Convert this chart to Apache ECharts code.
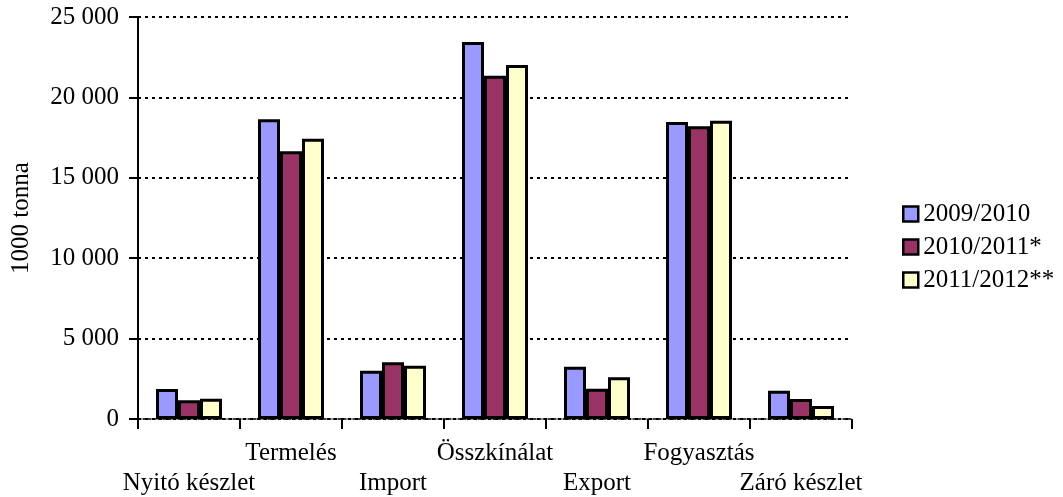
<!DOCTYPE html>
<html>
<head>
<meta charset="utf-8">
<script src="https://cdn.jsdelivr.net/npm/echarts@6/dist/echarts.min.js"></script>
<style>html,body{margin:0;padding:0;background:#fff;}#c{width:1063px;height:497px;}</style>
</head>
<body>
<div id="c"></div>
<script>
const categories = ['Nyitó készlet', 'Termelés', 'Import', 'Összkínálat', 'Export', 'Fogyasztás', 'Záró készlet'];
const seriesNames = ['2009/2010', '2010/2011*', '2011/2012**'];
const s2009 = [1870, 18640, 3000, 23450, 3250, 18470, 1760];
const s2010 = [1160, 16650, 3530, 21350, 1880, 18200, 1240];
const s2011 = [1260, 17430, 3310, 22010, 2590, 18550, 810];
const colors = ['#9999FF', '#993366', '#FFFFCC'];
const yTicks = { min: 0, max: 25000, interval: 5000 };

const font = 'Liberation Serif';
const chart = echarts.init(document.getElementById('c'));
const data = [s2009, s2010, s2011];
chart.setOption({
  animation: false,
  textStyle: { fontFamily: font },
  grid: { left: 138, right: 211, top: 17, bottom: 78, containLabel: false, outerBoundsMode: 'none' },
  legend: {
    orient: 'vertical', left: 897, top: 196,
    icon: 'rect',
    itemWidth: 15, itemHeight: 15, itemGap: 7,
    textStyle: { fontFamily: font, fontSize: 25, color: '#000', lineHeight: 26 },
    data: seriesNames.map((n, i) => ({ name: n, itemStyle: { color: colors[i], borderColor: '#000', borderWidth: 2.5 } }))
  },
  xAxis: {
    type: 'category', data: categories,
    axisLine: { lineStyle: { color: '#000', width: 1.5, type: [3, 2] } },
    axisTick: { show: true, length: 10, lineStyle: { color: '#000', width: 2 } },
    axisLabel: {
      interval: 0, margin: 19, fontFamily: font, fontSize: 25, color: '#000', lineHeight: 30,
      formatter: (v, i) => (i % 2 === 0 ? '\n' + v : v)
    }
  },
  yAxis: {
    type: 'value', min: yTicks.min, max: yTicks.max, interval: yTicks.interval,
    name: '1000 tonna', nameLocation: 'middle', nameGap: 104, nameRotate: 90,
    nameTextStyle: { fontFamily: font, fontSize: 25, color: '#000' },
    axisLine: { show: true, lineStyle: { color: '#000', width: 2 } },
    axisTick: { show: true, length: 9, lineStyle: { color: '#000', width: 2 } },
    axisLabel: {
      margin: 19, fontFamily: font, fontSize: 25, color: '#000',
      formatter: v => String(v).replace(/\B(?=(\d{3})+(?!\d))/g, ' ')
    },
    splitLine: { show: true, lineStyle: { color: '#000', width: 2, type: [3, 4] } }
  },
  series: seriesNames.map((n, i) => ({
    name: n, type: 'bar', data: data[i], barWidth: 22, barGap: '0%',
    itemStyle: { color: colors[i], borderColor: '#000', borderWidth: 3 }
  }))
});
</script>
</body>
</html>
